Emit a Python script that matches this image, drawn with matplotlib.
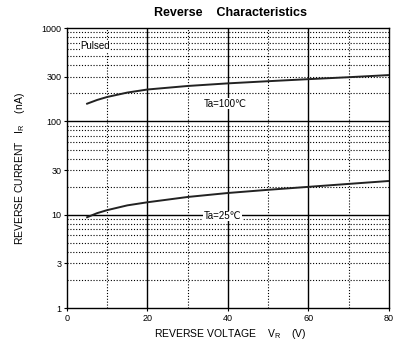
import numpy as np
import matplotlib
matplotlib.use("Agg")
import matplotlib.pyplot as plt
from matplotlib.ticker import FixedLocator, LogLocator, NullFormatter

plt.rcParams['font.family'] = ['Liberation Sans', 'DejaVu Sans']

# curve data
vr = [5, 7.5, 10, 15, 20, 30, 40, 50, 60, 70, 80]
ir_100 = [155, 170, 183, 204, 220, 240, 256, 270, 284, 298, 314]
ir_25 = [9.4, 10.4, 11.2, 12.6, 13.6, 15.5, 17.1, 18.5, 19.9, 21.4, 23.0]

y_ticks = [1, 3, 10, 30, 100, 300, 1000]
y_labels = ["1", "3", "10", "30", "100", "300", "1000"]
x_ticks = [0, 20, 40, 60, 80]

fig = plt.figure(figsize=(4.04, 3.52), dpi=100)
ax = fig.add_axes([0.1658, 0.125, 0.797, 0.795])

ax.set_yscale("log")
ax.set_xlim(0, 80)
ax.set_ylim(1, 1000)

# grid: solid majors, dotted minors
dots = (0, (1, 1.6))
for v in [20, 40, 60]:
    ax.axvline(v, color="black", lw=1.0, zorder=1)
for v in [10, 30, 50, 70]:
    ax.axvline(v, color="black", lw=0.8, ls=dots, zorder=1)
for v in [10, 100]:
    ax.axhline(v, color="black", lw=1.0, zorder=1)
for dec in [1, 10, 100]:
    for m in range(2, 10):
        ax.axhline(dec * m, color="black", lw=0.8, ls=dots, zorder=1)

ax.plot(vr, ir_100, color="#222222", lw=1.4, zorder=3)
ax.plot(vr, ir_25, color="#222222", lw=1.4, zorder=3)

ax.text(3.3, 640, "Pulsed", fontsize=7, va="center", ha="left",
        bbox=dict(facecolor="white", edgecolor="none", pad=0.3), zorder=4)
ax.text(34, 155, "Ta=100℃", fontsize=7, va="center", ha="left",
        family=["Liberation Sans", "DejaVu Sans"],
        bbox=dict(facecolor="white", edgecolor="none", pad=0.3), zorder=4)
ax.text(34, 9.7, "Ta=25℃", fontsize=7, va="center", ha="left",
        family=["Liberation Sans", "DejaVu Sans"],
        bbox=dict(facecolor="white", edgecolor="none", pad=0.3), zorder=4)

ax.yaxis.set_major_locator(FixedLocator(y_ticks))
ax.set_yticklabels(y_labels)
ax.yaxis.set_minor_locator(LogLocator(subs=[]))
ax.yaxis.set_minor_formatter(NullFormatter())
ax.set_xticks(x_ticks)
ax.tick_params(axis="both", labelsize=6.5, length=2, width=0.8, pad=2)
ax.tick_params(axis="y", which="minor", length=0)

for s in ax.spines.values():
    s.set_linewidth(1.0)

fig.text(0.57, 0.962, "Reverse    Characteristics", fontsize=9, fontweight="bold",
         ha="center", va="center")
fig.text(0.57, 0.052, "REVERSE VOLTAGE    V$_{\\mathregular{R}}$    (V)", fontsize=7.5,
         ha="center", va="center")
fig.text(0.05, 0.52, "REVERSE CURRENT   I$_{\\mathregular{R}}$    (nA)", fontsize=7.5,
         ha="center", va="center", rotation=90)

fig.savefig("out.png", dpi=100)
